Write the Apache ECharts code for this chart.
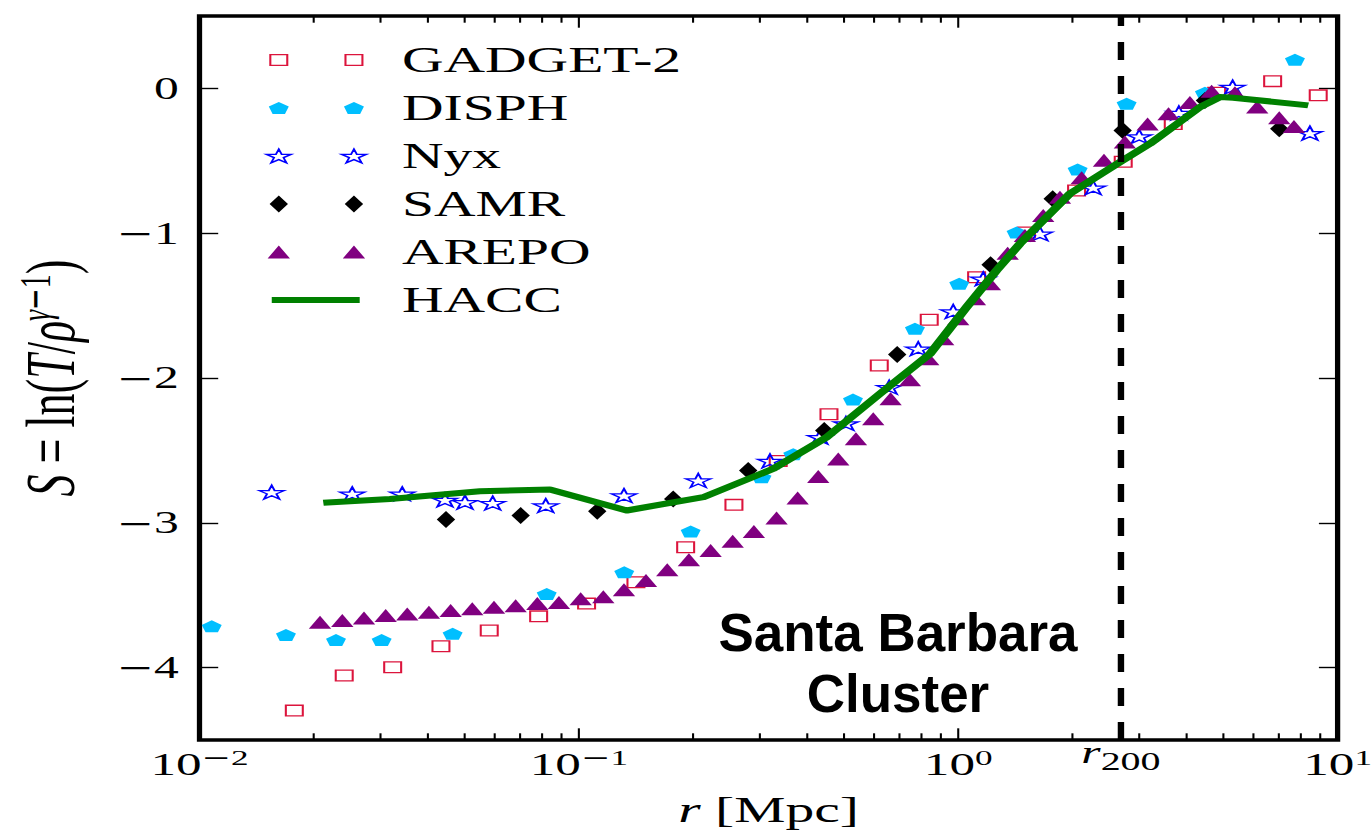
<!DOCTYPE html>
<html><head><meta charset="utf-8">
<script src="https://cdn.jsdelivr.net/npm/echarts@6/dist/echarts.min.js"></script>
<style>html,body{margin:0;padding:0;background:#fff;overflow:hidden;}
#main{width:858px;height:832px;transform:scaleX(1.5990676);transform-origin:0 0;}</style>
</head><body><div id="main"></div>
<script>
// ---- data (r in Mpc, S) ----
const gadgetR = [0.01778,0.02407,0.0323,0.0433,0.05804,0.07834,0.1048,0.1414,0.1912,0.2563,0.3353,0.4563,0.6192,0.8386,1.118,1.514,2.051,2.722,3.688,4.799,6.742,8.89];
const gadgetS = [-4.297,-4.055,-3.998,-3.853,-3.744,-3.646,-3.558,-3.411,-3.169,-2.876,-2.573,-2.25,-1.914,-1.598,-1.304,-0.995,-0.705,-0.507,-0.246,-0.03,0.05,-0.048];
const disphR = [0.01077,0.0169,0.0229,0.03021,0.04648,0.08228,0.1317,0.1971,0.303,0.3674,0.5279,0.7689,1.006,1.425,2.064,2.779,4.47,7.719];
const disphS = [-3.715,-3.774,-3.81,-3.81,-3.767,-3.491,-3.342,-3.06,-2.685,-2.526,-2.149,-1.66,-1.349,-0.995,-0.56,-0.106,-0.03,0.198];
const nyxR = [0.0155,0.02527,0.03423,0.04437,0.0501,0.05928,0.08179,0.1315,0.2064,0.319,0.4319,0.5058,0.6577,0.7845,0.9701,1.164,1.642,2.269,3.0,3.816,5.288,8.453];
const nyxS = [-2.789,-2.80,-2.80,-2.842,-2.858,-2.864,-2.881,-2.812,-2.708,-2.573,-2.409,-2.314,-2.064,-1.798,-1.541,-1.315,-1.004,-0.686,-0.332,-0.17,0.009,-0.309];
const samrR = [0.04464,0.07024,0.1118,0.1773,0.2795,0.4434,0.6904,1.217,1.774,2.713,4.47,7.018];
const samrS = [-2.978,-2.95,-2.92,-2.835,-2.639,-2.363,-1.838,-1.218,-0.762,-0.29,-0.083,-0.278];
const arepoR = [0.02078,0.02379,0.02714,0.03096,0.03529,0.04025,0.04592,0.05236,0.05974,0.06813,0.07771,0.0886,0.1011,0.116,0.1315,0.1503,0.171,0.195,0.2225,0.2544,0.2893,0.332,0.3773,0.4276,0.4828,0.5375,0.597,0.6633,0.7459,0.8336,0.9128,1.0,1.107,1.212,1.35,1.499,1.675,1.854,2.115,2.422,2.75,3.156,3.584,4.08,4.655,5.362,6.14,7.018,7.673];
const arepoS = [-3.687,-3.675,-3.657,-3.641,-3.629,-3.618,-3.606,-3.594,-3.583,-3.572,-3.558,-3.55,-3.525,-3.51,-3.463,-3.399,-3.325,-3.256,-3.192,-3.127,-3.06,-2.966,-2.828,-2.68,-2.56,-2.42,-2.282,-2.144,-2.012,-1.867,-1.729,-1.591,-1.453,-1.349,-1.138,-1.016,-0.877,-0.751,-0.617,-0.497,-0.371,-0.246,-0.175,-0.098,-0.02,-0.03,-0.129,-0.202,-0.263];
const haccR = [0.0212,0.03178,0.05486,0.0839,0.1337,0.2128,0.3254,0.4499,0.6218,0.8423,1.052,1.262,1.454,1.97,2.668,3.201,4.336,4.896,5.306,8.366];
const haccS = [-2.862,-2.835,-2.782,-2.770,-2.915,-2.823,-2.627,-2.409,-2.109,-1.833,-1.511,-1.257,-1.073,-0.727,-0.509,-0.382,-0.129,-0.060,-0.064,-0.117];
const r200 = 2.685;
const xMajorTicks = [0.01, 0.1, 1, 10];
const xMinorTicks = [0.02,0.03,0.04,0.05,0.06,0.07,0.08,0.09,0.2,0.3,0.4,0.5,0.6,0.7,0.8,0.9,2,3,4,5,6,7,8,9];
const xLabelValues = [0.01, 0.1, 1, r200, 10];
const yTicks = [-4, -3, -2, -1, 0];
const seriesNames = ['GADGET-2', 'DISPH', 'Nyx', 'SAMR', 'AREPO', 'HACC'];

// ---- layout helpers (page is drawn narrow, then stretched horizontally) ----
const SX = 1372 / 858;
const fx = px => px / SX;
const FF = "'Liberation Serif', 'DejaVu Serif', serif";
const FM = "'DejaVu Serif', serif";
const zip = (a, b) => a.map((v, i) => [v, b[i]]);

const PENT = 'path://M0,-1L0.951,-0.309L0.588,0.809L-0.588,0.809L-0.951,-0.309Z';
const STAR = 'path://M95,0L117.5,69.1L190,69.1L131.3,111.8L153.8,180.9L95,138.2L36.2,180.9L58.7,111.8L0,69.1L72.5,69.1Z';
const icons = {
  sq: 'path://M0,0M80,17M2.7,3.15H13.3V13.85H2.7ZM49.7,3.15H60.3V13.85H49.7Z',
  pent: 'path://M0,0M80,17M8,2.5L14.25,7.08L11.87,14.5L4.13,14.5L1.75,7.08ZM55,2.5L61.25,7.08L58.87,14.5L51.13,14.5L48.75,7.08Z',
  star: 'path://M0,0M80,17M8,1.65L9.83,6.88L15.75,6.88L10.96,10.12L12.79,15.35L8,12.12L3.21,15.35L5.04,10.12L0.25,6.88L6.17,6.88ZM55,1.65L56.83,6.88L62.75,6.88L57.96,10.12L59.79,15.35L55,12.12L50.21,15.35L52.04,10.12L47.25,6.88L53.17,6.88Z',
  dia: 'path://M0,0M80,17M8,0L13.75,8.5L8,17L2.25,8.5ZM55,0L60.75,8.5L55,17L49.25,8.5Z',
  tri: 'path://M0,0M80,17M8,2L15,15L1,15ZM55,2L62,15L48,15Z',
  line: 'path://M0,0M80,17M3.6,8.5H58.6'
};
const C = {gadget:'#dc143c', disph:'#00bfff', nyx:'#0000ff', samr:'#000000', arepo:'#800080', hacc:'#008000'};
const styles = {
  gadget: {color:'rgba(0,0,0,0)', borderColor:C.gadget, borderWidth:1.3, opacity:1},
  disph: {color:C.disph, borderWidth:0, opacity:1},
  nyx: {color:'rgba(0,0,0,0)', borderColor:C.nyx, borderWidth:1.3, opacity:1},
  samr: {color:C.samr, borderWidth:0, opacity:1},
  arepo: {color:C.arepo, borderWidth:0, opacity:1},
  hacc: {color:'rgba(0,0,0,0)', borderColor:C.hacc, borderWidth:6, opacity:1}
};

function fmtX(v) {
  if (Math.abs(v - r200) < 1e-6) return '{ri|r}{sub|200}';
  const e = Math.round(Math.log10(v));
  return '{b|10}' + (e < 0 ? '{supm|\u2212}{sup|' + (-e) + '}' : '{sup|' + e + '}');
}
const tickStyle = {color:'#000', width:1.4};
const MAJOR_LEN = 11.7, MINOR_LEN = 6.7, TICK_W = 1.3;
// x-axis tick marks (log-spaced minor ticks) placed through the log axis scale, top and bottom
function renderXTick(params, api) {
  const cs = params.coordSys;
  const v = api.value(0);
  const x = api.coord([v, -4.5])[0];
  const len = xMajorTicks.indexOf(v) >= 0 ? MAJOR_LEN : MINOR_LEN;
  const yb = cs.y + cs.height, yt = cs.y;
  return {type:'group', children:[
    {type:'rect', shape:{x:x - TICK_W / 2, y:yb - len, width:TICK_W, height:len}, style:{fill:'#000'}},
    {type:'rect', shape:{x:x - TICK_W / 2, y:yt, width:TICK_W, height:len}, style:{fill:'#000'}}
  ]};
}

const chart = echarts.init(document.getElementById('main'), null, {renderer:'svg'});
chart.setOption({
  animation:false,
  textStyle:{fontFamily:FF},
  grid:{left:fx(199.5), right:858 - fx(1337.6), top:16, bottom:92, show:true, borderColor:'#000', borderWidth:3.3, backgroundColor:'transparent', containLabel:false, outerBoundsMode:'none'},
  legend:{
    orient:'vertical', left:fx(266) - 8, top:37, itemWidth:80, itemHeight:17, itemGap:12,
    selectedMode:false,
    textStyle:{fontFamily:FF, fontSize:36, color:'#000', lineHeight:36},
    data:[
      {name:seriesNames[0], icon:icons.sq, itemStyle:styles.gadget},
      {name:seriesNames[1], icon:icons.pent, itemStyle:styles.disph},
      {name:seriesNames[2], icon:icons.star, itemStyle:styles.nyx},
      {name:seriesNames[3], icon:icons.dia, itemStyle:styles.samr},
      {name:seriesNames[4], icon:icons.tri, itemStyle:styles.arepo},
      {name:seriesNames[5], icon:icons.line, itemStyle:styles.hacc}
    ]
  },
  xAxis:[
    {type:'log', logBase:10, min:0.01, max:10, position:'bottom', splitLine:{show:false}, axisLine:{show:false, onZero:false},
      axisTick:{show:false},
      axisLabel:{show:true, customValues:xLabelValues, margin:6, formatter:fmtX, color:'#000',
        rich:{
          b:{fontFamily:FF, fontSize:32, lineHeight:36, color:'#000'},
          supm:{fontFamily:FM, fontSize:22, height:22.8, lineHeight:20, verticalAlign:'top', color:'#000'},
          sup:{fontFamily:FF, fontSize:22, height:22.8, lineHeight:20, verticalAlign:'top', color:'#000'},
          ri:{fontFamily:FF, fontSize:31, fontStyle:'italic', height:12.8, lineHeight:36, verticalAlign:'top', color:'#000'},
          sub:{fontFamily:FF, fontSize:25, height:30.8, lineHeight:36, verticalAlign:'top', color:'#000'}
        }},
      name:'{i|r} [Mpc]', nameLocation:'middle', nameGap:50,
      nameTextStyle:{fontFamily:FF, fontSize:36, lineHeight:40, color:'#000',
        rich:{i:{fontFamily:FF, fontSize:36, fontStyle:'italic', lineHeight:40, color:'#000'}}}
    }
  ],
  yAxis:[
    {type:'value', min:-4.5, max:0.5, position:'left', splitLine:{show:false}, axisLine:{show:false, onZero:false},
      axisTick:{show:true, inside:true, length:MAJOR_LEN, lineStyle:tickStyle, customValues:yTicks},
      axisLabel:{show:true, customValues:yTicks, margin:13, fontFamily:FF, fontSize:31, color:'#000',
        formatter:v => (v === 0 ? '0' : '{m|\u2212}' + Math.abs(v)),
        rich:{m:{fontFamily:FM, fontSize:28, color:'#000'}}},
      name:'{i|S} = ln({i|T}/{i|\u03c1}{supi|\u03b3}{supm|\u2212}{sup|1})', nameLocation:'middle', nameGap:68,
      nameTextStyle:{fontFamily:FF, fontSize:44, lineHeight:50, color:'#000',
        rich:{
          i:{fontFamily:FF, fontSize:44, fontStyle:'italic', lineHeight:50, color:'#000'},
          supi:{fontFamily:FF, fontSize:28, fontStyle:'italic', height:30, lineHeight:30, verticalAlign:'top', color:'#000'},
          supm:{fontFamily:FM, fontSize:26, height:30, lineHeight:30, verticalAlign:'top', color:'#000'},
          sup:{fontFamily:FF, fontSize:28, height:30, lineHeight:30, verticalAlign:'top', color:'#000'}
        }}
    },
    {type:'value', min:-4.5, max:0.5, position:'right', splitLine:{show:false}, axisLine:{show:false, onZero:false},
      axisTick:{show:true, inside:true, length:MAJOR_LEN, lineStyle:tickStyle, customValues:yTicks},
      axisLabel:{show:false}}
  ],
  graphic:[{
    type:'text', x:fx(898), y:602, scaleX:1/SX, z:100,
    style:{text:'Santa Barbara\nCluster', fontFamily:"'Liberation Sans', Arial, sans-serif", fontWeight:'bold',
      fontSize:53, lineHeight:61, align:'center', verticalAlign:'top', fill:'#000'}
  }],
  series:[
    {name:seriesNames[0], type:'scatter', data:zip(gadgetR, gadgetS), symbol:'rect', symbolSize:[10.6,10.7], itemStyle:styles.gadget,
      markLine:{silent:true, symbol:['none','none'], label:{show:false}, animation:false,
        lineStyle:{color:'#000', width:4, type:[18,16], opacity:1}, data:[{xAxis:r200}]}},
    {name:seriesNames[1], type:'scatter', data:zip(disphR, disphS), symbol:PENT, symbolSize:[12.5,12], itemStyle:styles.disph},
    {name:seriesNames[2], type:'scatter', data:zip(nyxR, nyxS), symbol:STAR, symbolSize:[15.5,13.7], itemStyle:styles.nyx},
    {name:seriesNames[3], type:'scatter', data:zip(samrR, samrS), symbol:'diamond', symbolSize:[11.5,17], itemStyle:styles.samr},
    {name:seriesNames[4], type:'scatter', data:zip(arepoR, arepoS), symbol:'triangle', symbolSize:[14,13], itemStyle:styles.arepo},
    {name:seriesNames[5], type:'line', data:zip(haccR, haccS), symbol:'none', showSymbol:false, smooth:false,
      itemStyle:{color:C.hacc}, lineStyle:{color:C.hacc, width:6, join:'round', opacity:1}},
    {name:'x ticks', type:'custom', silent:true, clip:false, z:5,
      data:xMajorTicks.concat(xMinorTicks).map(v => [v, -4.5]),
      renderItem:renderXTick}
  ]
});
</script>
</body></html>
